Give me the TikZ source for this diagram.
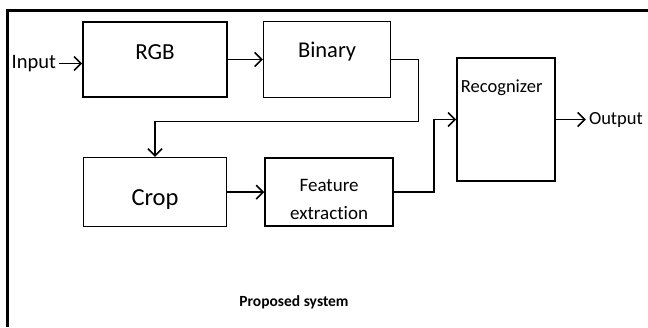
\documentclass[tikz,border=0pt]{standalone}
\usepackage{fontspec}
\setmainfont{Carlito}[Ligatures=NoCommon]
\usetikzlibrary{positioning,arrows.meta}

\begin{document}
\begin{tikzpicture}[x=1pt, y=1pt, box/.style = {draw, ultra thick, inner sep=0pt}, txt/.style = {inner sep=3pt}, >={Straight Barb[length=7pt,width=14pt]}]
        \useasboundingbox (0,0) rectangle (648,327);
        \draw[line width=3pt] (7,0) -- (7,316) -- (648,316);
        \node[box, minimum width=144pt, minimum height=75pt, text height=8pt, text depth=7pt, font=\fontsize{23}{27}\selectfont] (rgb) at (155,267.5) {RGB};
        \node[box, minimum width=127pt, minimum height=76pt, text height=5pt, text depth=9.6pt, font=\fontsize{22.5}{27}\selectfont] (binary) [right=35pt of rgb] {Binary};
        \node[box, minimum width=143pt, minimum height=69pt, text height=27pt, text depth=0pt, font=\fontsize{24.5}{29}\selectfont] (crop) [below=59pt of rgb] {Crop};
        \node[box, minimum width=128pt, minimum height=68pt, text height=10pt, text depth=11pt, font=\fontsize{19}{28}\selectfont] (feature) [right=37pt of crop] {\begin{tabular}[t]{@{}c@{}}Feature\\extraction\end{tabular}};
        \node[box, minimum width=98pt, minimum height=123pt] (recog) at (506,207.5) {};
        \node[txt, font=\fontsize{18.5}{22}\selectfont] (recogname) at ([xshift=45.5pt, yshift=-31pt]recog.north west) {Recognizer};
        \node[txt, font=\fontsize{20.5}{24}\selectfont] (input) [left=23pt of rgb, yshift=-4pt] {Input};
        \node[txt, font=\fontsize{18.5}{22}\selectfont] (output) [right=30pt of recog] {Output};
        \node[font=\bfseries\fontsize{15.5}{18}\selectfont] (caption) at (294,25) {Proposed system};
        \draw[->, ultra thick] (input) -- (input -| rgb.west);
        \draw[->, ultra thick] (rgb) -- (binary);
        \draw[->, ultra thick] (binary.east) -- ++(27pt,0) -- ++(0,-62pt) -| (crop.north);
        \draw[->, ultra thick] (crop) -- (feature);
        \draw[->, ultra thick] (feature.east) -- ++(40pt,0) |- (recog.west);
        \draw[->, ultra thick] (recog) -- (output);
    \end{tikzpicture}
\end{document}
